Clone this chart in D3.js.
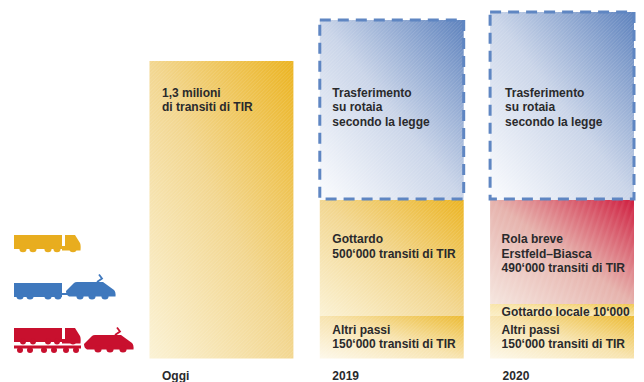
<!DOCTYPE html>
<html lang="it">
<head>
<meta charset="utf-8">
<script src="https://cdn.jsdelivr.net/npm/d3@7/dist/d3.min.js"></script>
<style>
  html, body { margin: 0; padding: 0; background: #fff; }
  svg { display: block; }
  text { font-family: "Liberation Sans", Arial, sans-serif; font-weight: 700; font-size: 12px; fill: #2a2a2c; }
</style>
</head>
<body>
<script>
// Transit volumes per column, in thousands of lorry transits
const columns = ["Oggi", "2019", "2020"];
const oggiValues = [1300];
const altriPassi = [150, 150];
const gottardo = [500, 0];
const gottardoLocale = [0, 10];
const rolaBreve = [0, 490];
const trasferimento = [834, 870];

// The vertical axis is schematic: each stretch of volume has its own slope
const yStops = [0, 150, 160, 650, 1300, 1520];
const yPixels = [358.5, 316, 304, 200, 61, 12];

const W = 644, H = 382;
const svg = d3.select("body").append("svg").attr("width", W).attr("height", H);
const defs = svg.append("defs");

const x = d3.scaleBand().domain(columns).range([149.5, 634]).paddingInner(0.155);
const y = d3.scaleLinear().domain(yStops).range(yPixels);

// Diagonal gradients running from the lower left to the upper right
const fills = {
  yellow: ["#fbf2d4", "#f2d68f", "#ebb31f"],
  altri:  ["#fdf8ea", "#f7e3ae", "#ecba30"],
  local:  ["#fbeec6", "#f8e4a8", "#f0c64e"],
  blue:   ["#fbfcfe", "#c9d4e8", "#5b80bc"],
  red:    ["#f5e6df", "#e6b3ad", "#cf1f40"]
};
Object.entries(fills).forEach(([name, c]) => {
  const g = defs.append("linearGradient").attr("id", "grad-" + name)
    .attr("x1", 0).attr("y1", 1).attr("x2", 1).attr("y2", 0);
  g.selectAll("stop").data(c).join("stop")
    .attr("offset", (d, i) => i / (c.length - 1))
    .attr("stop-color", d => d);
});

// Screen-like hatching laid over the gradients: fine for most fills, coarser and steeper on red
function makeHatch(id, period, lineWidth, angle, opacity) {
  const p = defs.append("pattern").attr("id", id)
    .attr("patternUnits", "userSpaceOnUse").attr("width", period).attr("height", period)
    .attr("patternTransform", `rotate(${angle})`);
  p.append("rect").attr("width", lineWidth).attr("height", period)
    .attr("fill", "#fff").attr("fill-opacity", opacity);
}
makeHatch("hatch", 2.5, 1, 45, 0.12);
makeHatch("hatch-red", 6, 2.5, 18, 0.06);

function band(col, from, to, fill) {
  const rectAttrs = s => s.attr("x", x(col)).attr("width", x.bandwidth())
    .attr("y", y(from + to)).attr("height", y(from) - y(from + to));
  svg.append("rect").call(rectAttrs).attr("fill", `url(#grad-${fill})`);
  svg.append("rect").call(rectAttrs).attr("fill", fill === "red" ? "url(#hatch-red)" : "url(#hatch)");
}

// Today
band("Oggi", 0, oggiValues[0], "yellow");

// 2019 and 2020 stacks
["2019", "2020"].forEach((col, i) => {
  band(col, 0, altriPassi[i], "altri");
  let base = altriPassi[i];
  if (gottardoLocale[i]) { band(col, base, gottardoLocale[i], "local"); base += gottardoLocale[i]; }
  if (gottardo[i]) { band(col, base, gottardo[i], "yellow"); base += gottardo[i]; }
  if (rolaBreve[i]) { band(col, base, rolaBreve[i], "red"); base += rolaBreve[i]; }
  band(col, base, trasferimento[i], "blue");
  svg.append("rect")
    .attr("x", x(col)).attr("width", x.bandwidth())
    .attr("y", y(base + trasferimento[i]))
    .attr("height", y(base) - y(base + trasferimento[i]) - 1)
    .attr("fill", "none").attr("stroke", "#5f86c2").attr("stroke-width", 3)
    .attr("stroke-dasharray", "11 7");
});

function label(col, dx, baseline, lines) {
  const t = svg.append("text");
  lines.forEach((line, i) => t.append("tspan")
    .attr("x", x(col) + dx).attr("y", baseline + i * 14.7).text(line));
}

label("Oggi", 12.5, 96.5, ["1,3 milioni", "di transiti di TIR"]);
label("2019", 12.5, 96.5, ["Trasferimento", "su rotaia", "secondo la legge"]);
label("2020", 15, 96.5, ["Trasferimento", "su rotaia", "secondo la legge"]);
label("2019", 12.5, 243, ["Gottardo", "500‘000 transiti di TIR"]);
label("2020", 11.5, 243, ["Rola breve", "Erstfeld–Biasca", "490‘000 transiti di TIR"]);
label("2020", 11.5, 315.5, ["Gottardo locale 10‘000"]);
label("2019", 12.5, 333.5, ["Altri passi", "150‘000 transiti di TIR"]);
label("2020", 11.5, 333.5, ["Altri passi", "150‘000 transiti di TIR"]);

// Column captions
const axis = d3.axisBottom(x).tickSize(0).tickPadding(0);
const axisG = svg.append("g").attr("transform", "translate(0,371)").call(axis);
axisG.select(".domain").remove();
axisG.selectAll("text")
  .attr("text-anchor", "start")
  .attr("dy", 0).attr("y", 9)
  .attr("x", d => 12.5 - x.bandwidth() / 2);
axisG.attr("font-family", null).attr("font-size", null);

// Vehicle pictograms
const wheels = (g, xs, cy, color, r = 3.6) => g.selectAll(null).data(xs).join("circle")
  .attr("cx", d => d).attr("cy", cy).attr("r", r).attr("fill", color);

function lorry(g, oy, color) {
  g.append("path").attr("fill", color)
    .attr("d", `M14 ${oy}H62V${oy + 14}H14Z`);
  g.append("path").attr("fill", color)
    .attr("d", `M62 ${oy + 11}H65V${oy}H75L80 ${oy + 8}Q81 ${oy + 10} 80.5 ${oy + 15.5}H62Z`);
}

function locomotive(g, ox, oy, color) {
  g.append("path").attr("fill", color)
    .attr("d", `M${ox} ${oy + 9}L${ox + 8} ${oy + 1}Q${ox + 9} ${oy} ${ox + 11} ${oy}H${ox + 37}L${ox + 48} ${oy + 8}Q${ox + 50} ${oy + 10} ${ox + 49.5} ${oy + 14.5}H${ox + 3}Q${ox} ${oy + 13} ${ox} ${oy + 9}Z`);
  g.append("path").attr("fill", "none").attr("stroke", color).attr("stroke-width", 1.8)
    .attr("d", `M${ox + 31} ${oy}L${ox + 36} ${oy - 3.5}L${ox + 33} ${oy - 7.5}`);
}

const yellowIcon = svg.append("g");
lorry(yellowIcon, 235, "#e8ad1f");
wheels(yellowIcon, [23, 33, 48, 57, 73], 248.7, "#e8ad1f");

const blueIcon = svg.append("g");
blueIcon.append("rect").attr("x", 14).attr("y", 283).attr("width", 48).attr("height", 14).attr("fill", "#3f78bd");
blueIcon.append("rect").attr("x", 60).attr("y", 293).attr("width", 8).attr("height", 2).attr("fill", "#3f78bd");
locomotive(blueIcon, 66, 282, "#3f78bd");
wheels(blueIcon, [20, 30, 48, 58, 80, 92, 105], 296, "#3f78bd");

const redIcon = svg.append("g");
lorry(redIcon, 328, "#c8102e");
wheels(redIcon, [23, 33, 48, 57, 73], 341.5, "#c8102e", 3);
redIcon.append("rect").attr("x", 14).attr("y", 345.5).attr("width", 67).attr("height", 3).attr("fill", "#c8102e");
wheels(redIcon, [20, 30, 44, 54, 66, 76], 350, "#c8102e", 3);
locomotive(redIcon, 84, 335, "#c8102e");
wheels(redIcon, [98, 110, 123], 349, "#c8102e");
</script>
</body>
</html>
